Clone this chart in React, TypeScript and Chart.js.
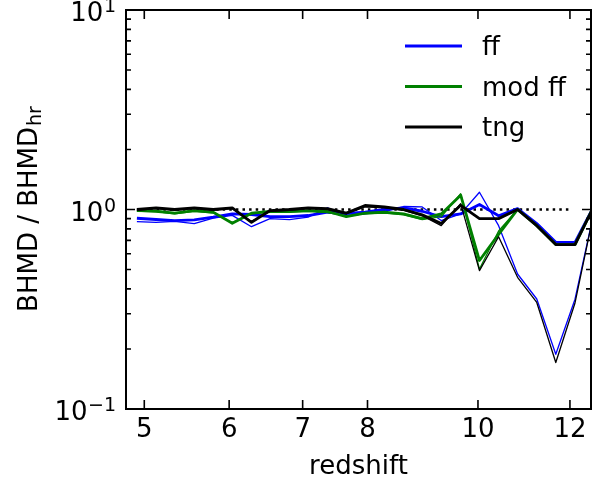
import React, { useEffect, useRef } from 'react';
import { Chart, registerables } from 'chart.js';

Chart.register(...registerables);

// ---------- data ----------
const redshift = [4.92, 5.13, 5.34, 5.57, 5.80, 6.04, 6.29, 6.54, 6.81, 7.08, 7.37, 7.66, 7.96, 8.28, 8.61, 8.94, 9.29, 9.66, 10.03, 10.42, 10.82, 11.24, 11.67, 12.12, 12.58];

const ffThick = [0.904, 0.891, 0.880, 0.888, 0.915, 0.950, 0.944, 0.922, 0.922, 0.933, 0.969, 0.955, 0.970, 1.000, 1.020, 0.980, 0.920, 0.950, 1.060, 0.930, 1.010, 0.850, 0.685, 0.685, 1.040];
const ffThin = [0.870, 0.862, 0.872, 0.850, 0.905, 0.935, 0.820, 0.900, 0.890, 0.915, 1.020, 0.933, 0.950, 0.980, 1.035, 1.030, 0.880, 0.950, 1.220, 0.830, 0.475, 0.356, 0.188, 0.355, 0.970];
const modFfThick = [0.990, 0.980, 0.958, 0.988, 0.970, 0.853, 0.958, 0.977, 0.977, 0.988, 0.977, 0.922, 0.960, 0.970, 0.950, 0.900, 0.950, 1.180, 0.555, 0.750, 1.000, 0.830, 0.667, 0.667, 1.040];
const modFfThin = [0.980, 0.975, 0.950, 0.980, 0.960, 0.860, 0.950, 0.970, 0.970, 0.980, 0.965, 0.930, 0.950, 0.960, 0.940, 0.890, 0.920, 1.200, 0.503, 0.780, 1.000, 0.830, 0.667, 0.667, 1.040];
const tngThick = [1.000, 1.020, 1.000, 1.020, 1.000, 1.020, 0.863, 0.988, 1.000, 1.020, 1.010, 0.960, 1.047, 1.030, 1.000, 0.940, 0.850, 1.050, 0.900, 0.900, 1.000, 0.830, 0.667, 0.667, 1.040];
const tngThin = [0.990, 1.010, 0.990, 1.010, 0.990, 1.010, 0.870, 0.980, 0.990, 1.010, 1.000, 0.950, 1.030, 1.020, 0.990, 0.930, 0.830, 1.070, 0.494, 0.730, 0.457, 0.342, 0.171, 0.340, 0.970];

const xTickLabels = [5, 6, 7, 8, 10, 12];
const yMajorTicks = [0.1, 1, 10];
const yTickExponents = ['\u22121', '0', '1'];
const yMinorDecades = [0.1, 1];
const yMinorMultipliers = [2, 3, 4, 5, 6, 7, 8, 9];
const legendLabels = ['ff', 'mod ff', 'tng'];
const seriesColors = ['#0000ff', '#008000', '#000000'];
const xRange = [4.804, 12.507];
const yRange = [0.1, 10];
const refLineFrom = 4.92;
const refLineTo = 12.0;
const refLineValue = 1;

const FONT = "'DejaVu Sans', sans-serif";
const lz = (z: number) => Math.log10(1 + z);

export default function App() {
  const ref = useRef<HTMLCanvasElement>(null);

  useEffect(() => {
    const canvas = ref.current;
    if (!canvas) return;

    const mk = (vals: number[]) => redshift.map((z, i) => ({ x: lz(z), y: vals[i] }));
    const line = (label: string, vals: number[], color: string, width: number) => ({
      label,
      data: mk(vals),
      borderColor: color,
      backgroundColor: color,
      borderWidth: width,
      pointRadius: 0,
      fill: false,
      tension: 0,
      borderJoinStyle: 'round' as const,
    });

    const datasets: any[] = [
      line('tng', tngThick, seriesColors[2], 2.8),
      line('tng (thin)', tngThin, seriesColors[2], 1.3),
      line('mod ff', modFfThick, seriesColors[1], 2.8),
      line('mod ff (thin)', modFfThin, seriesColors[1], 1.3),
      line('ff', ffThick, seriesColors[0], 2.8),
      line('ff (thin)', ffThin, seriesColors[0], 1.3),
      {
        label: 'unity',
        data: [
          { x: lz(refLineFrom), y: refLineValue },
          { x: lz(refLineTo), y: refLineValue },
        ],
        borderColor: '#000000',
        borderWidth: 2.5,
        borderDash: [2.5, 4.1],
        pointRadius: 0,
        fill: false,
      },
    ];

    const decor = {
      id: 'mplDecor',
      afterDatasetsDraw(chart: any) {
        const { ctx, chartArea: a, scales } = chart;
        const xs = scales.x;
        const ys = scales.y;
        ctx.save();
        ctx.strokeStyle = '#000';
        ctx.fillStyle = '#000';
        ctx.lineCap = 'butt';

        // ticks (inward)
        ctx.lineWidth = 1.6;
        ctx.beginPath();
        xTickLabels.forEach((z) => {
          const px = xs.getPixelForValue(lz(z));
          ctx.moveTo(px, a.bottom);
          ctx.lineTo(px, a.bottom - 9);
          ctx.moveTo(px, a.top);
          ctx.lineTo(px, a.top + 9);
        });
        yMajorTicks.forEach((v) => {
          const py = ys.getPixelForValue(v);
          ctx.moveTo(a.left, py);
          ctx.lineTo(a.left + 9, py);
          ctx.moveTo(a.right, py);
          ctx.lineTo(a.right - 9, py);
        });
        yMinorDecades.forEach((d) => {
          yMinorMultipliers.forEach((m) => {
            const py = ys.getPixelForValue(d * m);
            ctx.moveTo(a.left, py);
            ctx.lineTo(a.left + 5, py);
            ctx.moveTo(a.right, py);
            ctx.lineTo(a.right - 5, py);
          });
        });
        ctx.stroke();

        // frame
        ctx.lineWidth = 2;
        ctx.strokeRect(a.left, a.top, a.right - a.left, a.bottom - a.top);

        // y tick labels 10^n
        ctx.textBaseline = 'alphabetic';
        yMajorTicks.forEach((v, i) => {
          const py = ys.getPixelForValue(v);
          ctx.font = `19px ${FONT}`;
          const exp = yTickExponents[i];
          const ew = ctx.measureText(exp).width;
          const expLeft = a.left - 10 - ew;
          ctx.textAlign = 'left';
          ctx.fillText(exp, expLeft, py + 2);
          ctx.font = `26px ${FONT}`;
          ctx.textAlign = 'right';
          ctx.fillText('10', expLeft - 0.5, py + 11);
        });

        // y axis title with subscript
        const mainT = 'BHMD / BHMD';
        const subT = 'hr';
        ctx.font = `26px ${FONT}`;
        const mw = ctx.measureText(mainT).width;
        ctx.font = `19px ${FONT}`;
        const sw = ctx.measureText(subT).width;
        const cy = (a.top + a.bottom) / 2;
        ctx.save();
        ctx.translate(37, cy);
        ctx.rotate(-Math.PI / 2);
        ctx.textAlign = 'left';
        const start = -(mw + sw) / 2;
        ctx.font = `26px ${FONT}`;
        ctx.fillText(mainT, start, 0);
        ctx.font = `19px ${FONT}`;
        ctx.fillText(subT, start + mw + 1, 4);
        ctx.restore();

        // legend
        ctx.font = `26px ${FONT}`;
        ctx.textAlign = 'left';
        legendLabels.forEach((lab, k) => {
          const ly = 46 + 40.5 * k;
          ctx.strokeStyle = seriesColors[k];
          ctx.lineWidth = 2.8;
          ctx.beginPath();
          ctx.moveTo(405, ly);
          ctx.lineTo(462, ly);
          ctx.stroke();
          ctx.fillStyle = '#000';
          ctx.fillText(lab, 482, ly + 9);
        });

        ctx.restore();
      },
    };

    const chart = new Chart(canvas, {
      type: 'line',
      data: { datasets },
      options: {
        animation: false,
        responsive: false,
        maintainAspectRatio: false,
        devicePixelRatio: 1,
        events: [],
        layout: { padding: { left: 0, right: 11, top: 10, bottom: 0 } },
        plugins: {
          legend: { display: false },
          tooltip: { enabled: false },
          title: { display: false },
        },
        scales: {
          x: {
            type: 'linear',
            min: lz(xRange[0]),
            max: lz(xRange[1]),
            grid: { display: false, drawTicks: false },
            border: { display: false },
            afterBuildTicks: (s: any) => {
              s.ticks = xTickLabels.map((z) => ({ value: lz(z) }));
            },
            afterFit: (s: any) => {
              s.height = 77;
              s.paddingLeft = 0;
              s.paddingRight = 0;
            },
            ticks: {
              autoSkip: false,
              maxRotation: 0,
              minRotation: 0,
              padding: 6,
              color: '#000',
              font: { family: FONT, size: 26 },
              callback: (_v: any, i: number) => String(xTickLabels[i]),
            },
            title: {
              display: true,
              text: 'redshift',
              color: '#000',
              font: { family: FONT, size: 26 },
              padding: { top: 0, bottom: 3 },
            },
          },
          y: {
            type: 'logarithmic',
            min: yRange[0],
            max: yRange[1],
            grid: { display: false, drawTicks: false },
            border: { display: false },
            ticks: { display: false },
            afterFit: (s: any) => {
              s.width = 126;
              s.paddingTop = 0;
              s.paddingBottom = 0;
            },
          },
        },
      } as any,
      plugins: [decor],
    });

    return () => chart.destroy();
  }, []);

  return (
    <div style={{ position: 'absolute', left: 0, top: 0, width: 602, height: 486, background: '#fff' }}>
      <canvas ref={ref} width={602} height={486} style={{ width: 602, height: 486, display: 'block' }} />
    </div>
  );
}
